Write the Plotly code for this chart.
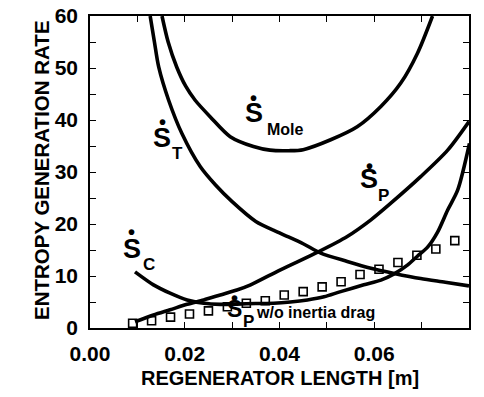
import plotly.graph_objects as go

# Regenerator length [m] and entropy generation rate for each contribution
mole_x = [0.0152, 0.0165, 0.0183, 0.0202, 0.0222, 0.0254, 0.0296, 0.0345, 0.0380,
          0.0420, 0.0450, 0.0508, 0.0564, 0.0614, 0.0656, 0.0691, 0.0723]
mole_y = [60, 55, 50.2, 46.5, 43.8, 40.6, 36.8, 34.9, 34.2,
          34.1, 34.3, 36.2, 38.7, 42.6, 47.1, 52.8, 60]

t_x = [0.0127, 0.0136, 0.0145, 0.0166, 0.0194, 0.0233, 0.0265, 0.0300, 0.0350,
       0.0400, 0.0450, 0.0487, 0.0543, 0.0593, 0.0642, 0.0698, 0.0750, 0.0800]
t_y = [60, 55, 50.2, 43.8, 37.4, 31.0, 27.5, 24.3, 20.5,
       18.3, 16.2, 14.4, 12.8, 11.5, 10.5, 9.5, 8.8, 8.1]

p_x = [0.0095, 0.0134, 0.0169, 0.0205, 0.0240, 0.0275, 0.0310, 0.0339,
       0.0402, 0.0483, 0.0543, 0.0593, 0.0635, 0.0698, 0.0755, 0.0800]
p_y = [1.2, 2.5, 3.5, 4.55, 5.4, 6.35, 7.3, 8.3,
       11.2, 14.7, 17.6, 20.8, 24.0, 29.1, 34.2, 39.7]

c_x = [0.0095, 0.0134, 0.0169, 0.0205, 0.0240, 0.0275, 0.0310, 0.0350, 0.0388,
       0.0423, 0.0459, 0.0494, 0.0529, 0.0578, 0.0614, 0.0642, 0.0670, 0.0691,
       0.0713, 0.0734, 0.0755, 0.0776, 0.0801]
c_y = [10.8, 8.3, 6.7, 5.4, 4.75, 4.55, 4.6, 4.7, 4.75,
       5.0, 5.4, 6.0, 7.0, 8.3, 9.2, 10.4, 12.1, 13.8,
       15.6, 18.5, 22.7, 26.5, 35.5]

# Pressure-drop term without inertia drag (open squares)
pw_x = [0.009, 0.013, 0.017, 0.021, 0.025, 0.029, 0.033, 0.037, 0.041,
        0.045, 0.049, 0.053, 0.057, 0.061, 0.065, 0.069, 0.073, 0.077]
pw_y = [0.9, 1.4, 2.1, 2.7, 3.3, 4.1, 4.75, 5.25, 6.35,
        7.0, 7.9, 8.9, 10.3, 11.3, 12.6, 14.0, 15.2, 16.8]

x_ticks = [0.00, 0.01, 0.02, 0.03, 0.04, 0.05, 0.06, 0.07, 0.08]
x_tick_text = ["0.00", "", "0.02", "", "0.04", "", "0.06", "", "0.08"]
y_ticks = [0, 5, 10, 15, 20, 25, 30, 35, 40, 45, 50, 55, 60]
y_tick_text = ["0", "", "10", "", "20", "", "30", "", "40", "", "50", "", "60"]

FONT = "Liberation Sans, Arial, Helvetica, sans-serif"
LINE = dict(color="black", width=3.6, shape="spline", smoothing=0.8)

fig = go.Figure()
for xs, ys in [(mole_x, mole_y), (t_x, t_y), (p_x, p_y), (c_x, c_y)]:
    fig.add_trace(go.Scatter(x=xs, y=ys, mode="lines", line=LINE, hoverinfo="skip"))
fig.add_trace(go.Scatter(
    x=pw_x, y=pw_y, mode="markers",
    marker=dict(symbol="square-open", size=8, color="black", line=dict(width=1.6)),
    hoverinfo="skip"))

axis_common = dict(
    showgrid=False, zeroline=False, showline=True, linecolor="black", linewidth=1.5,
    mirror="ticks", ticks="inside", ticklen=6, tickwidth=1.3, tickcolor="black",
    tickfont=dict(family=FONT, size=21, color="black", weight="bold"),
)

fig.update_xaxes(range=[0, 0.08], tickmode="array", tickvals=x_ticks,
                 ticktext=x_tick_text, ticklabelstandoff=6, **axis_common)
fig.update_yaxes(range=[0, 60], tickmode="array", tickvals=y_ticks,
                 ticktext=y_tick_text, ticklabelstandoff=6, **axis_common)

ann = []


def txt(x, y, s, size, xanchor="center", yanchor="middle", xref="x", yref="y", angle=0):
    ann.append(dict(x=x, y=y, xref=xref, yref=yref, text=s, showarrow=False,
                    xanchor=xanchor, yanchor=yanchor, textangle=angle,
                    font=dict(family=FONT, size=size, color="black", weight="bold")))


def s_dot(x, y, dy, sub, sx, sy, size=27, subsize=16):
    txt(x, y, "S", size)
    txt(x, y + dy, "•", 20)
    txt(sx, sy, sub, subsize, xanchor="left")


s_dot(0.0346, 41.3, 2.9, "Mole", 0.0370, 38.1)
s_dot(0.0153, 36.6, 3.1, "T", 0.0169, 33.5, subsize=17)
s_dot(0.0088, 15.2, 3.2, "C", 0.0108, 12.3, subsize=17)
s_dot(0.0589, 28.6, 2.6, "P", 0.0604, 25.5, subsize=17)
s_dot(0.0304, 3.7, 2.0, "P", 0.0318, 1.3, size=23, subsize=17)
txt(0.0346, 3.0, "w/o inertia drag", 16, xanchor="left")

txt(0.5 * (90 + 469) / 484, 1 - 378 / 397, "REGENERATOR LENGTH [m]", 20,
    xref="paper", yref="paper")
txt(41 / 484, 1 - 170 / 397, "ENTROPY GENERATION RATE", 20.5,
    xref="paper", yref="paper", angle=-90)

# Re-express paper annotation positions relative to the plot area
plot_l, plot_r, plot_t, plot_b = 90, 469, 16, 328
for a in ann:
    if a["xref"] == "paper":
        px, py = a["x"] * 484, (1 - a["y"]) * 397
        a["x"] = (px - plot_l) / (plot_r - plot_l)
        a["y"] = (plot_b - py) / (plot_b - plot_t)

fig.update_layout(
    width=484, height=397,
    margin=dict(l=plot_l, r=484 - plot_r, t=plot_t, b=397 - plot_b, autoexpand=False),
    paper_bgcolor="white", plot_bgcolor="white",
    showlegend=False, annotations=ann,
)

fig.write_html("out.html")
